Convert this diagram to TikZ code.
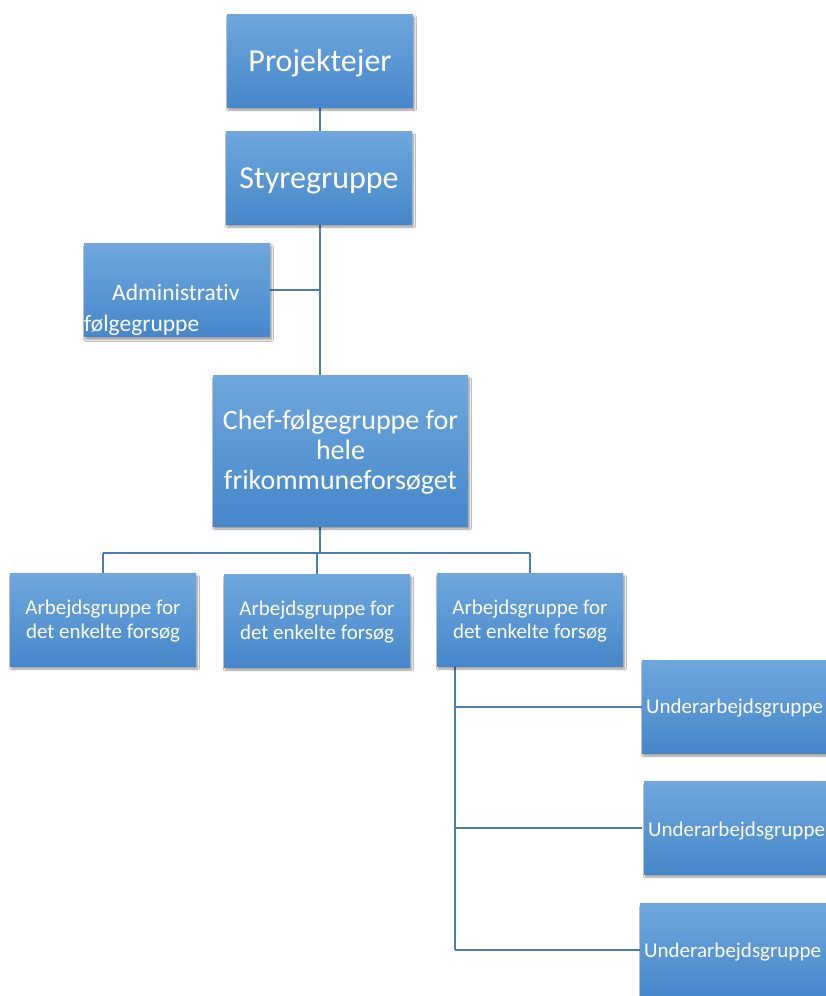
\documentclass[tikz,border=0pt]{standalone}
\usepackage{fontspec}
\setmainfont{Carlito}[Ligatures={NoCommon}]
\usetikzlibrary{shadows.blur}
\definecolor{boxtop}{HTML}{6FA7DD}
\definecolor{boxbot}{HTML}{4687CA}
\definecolor{linec}{HTML}{4A7DB6}
\newcommand{\lowtxt}[2]{\raisebox{-#1}[\height][\depth]{\begin{tabular}{@{}c@{}}#2\end{tabular}}}
\tikzset{
  orgbox/.style={rectangle, minimum width=186pt, minimum height=93pt, inner sep=0pt,
    top color=boxtop, bottom color=boxbot, draw=none, text=white,
    blur shadow={shadow xshift=1.5pt, shadow yshift=-3pt, shadow blur steps=6, shadow opacity=40}},
  conn/.style={draw=linec, line width=2.6pt},
  bigtxt/.style={font=\fontsize{32}{36}\selectfont},
  midtxt/.style={font=\fontsize{28}{30}\selectfont},
  smalltxt/.style={font=\fontsize{21}{24}\selectfont},
  subtxt/.style={font=\fontsize{21}{24}\selectfont, text=white, inner sep=0pt, anchor=west},
}
\begin{document}
\begin{tikzpicture}[x=1pt,y=-1pt]
\useasboundingbox[fill=white] (0,0) rectangle (825,996);
% coordinates for connector joints
\coordinate (j1) at (320,290);
\coordinate (j2) at (320,553);
\coordinate (jl) at (103,553);
\coordinate (jm) at (317,553);
\coordinate (jr) at (530,553);
\coordinate (v1) at (455,707);
\coordinate (v2) at (455,828);
\coordinate (v3) at (455,950);
% connectors (drawn first, under boxes)
\draw[conn] (320,107) -- (320,131);
\draw[conn] (320,224) -- (320,375);
\draw[conn] (270,290) -- (j1);
\draw[conn] (320,526) -- (j2);
\draw[conn] (jl) -- (jr);
\draw[conn] (jl) -- (103,573);
\draw[conn] (jm) -- (317,574);
\draw[conn] (jr) -- (530,573);
\draw[conn] (455,666) -- (v3);
\draw[conn] (v1) -- (642,707);
\draw[conn] (v2) -- (642,828);
\draw[conn] (v3) -- (642,950);
% boxes
\node[orgbox, bigtxt] (pe) at (320,60.5) {\lowtxt{4pt}{Projektejer}};
\node[orgbox, bigtxt] (sg) at (319,177.5) {\lowtxt{4pt}{Styregruppe}};
\node[orgbox] (af) at (177,290) {};
\node[font=\fontsize{23.5}{31}\selectfont, text=white, align=left, inner sep=0pt, anchor=north west] (aft) at (84,284) {\hspace*{28pt}Administrativ\\følgegruppe};
\node[orgbox, minimum width=255pt, minimum height=151pt, midtxt] (cf) at (340.5,450.5) {\lowtxt{3pt}{Chef-følgegruppe for\\hele\\frikommuneforsøget}};
\node[orgbox, smalltxt] (a1) at (103,619.5) {\lowtxt{2.5pt}{Arbejdsgruppe for\\det enkelte forsøg}};
\node[orgbox, smalltxt] (a2) at (317,620.5) {\lowtxt{2.5pt}{Arbejdsgruppe for\\det enkelte forsøg}};
\node[orgbox, smalltxt] (a3) at (530,619.5) {\lowtxt{2.5pt}{Arbejdsgruppe for\\det enkelte forsøg}};
\node[orgbox] (u1) at (735,706.5) {};
\node[orgbox] (u2) at (737,827.5) {};
\node[orgbox] (u3) at (733,950) {};
\node[subtxt] (u1t) at (646,708) {Underarbejdsgruppe};
\node[subtxt] (u2t) at (648,831) {Underarbejdsgruppe};
\node[subtxt] (u3t) at (644,952) {Underarbejdsgruppe};
\end{tikzpicture}
\end{document}
